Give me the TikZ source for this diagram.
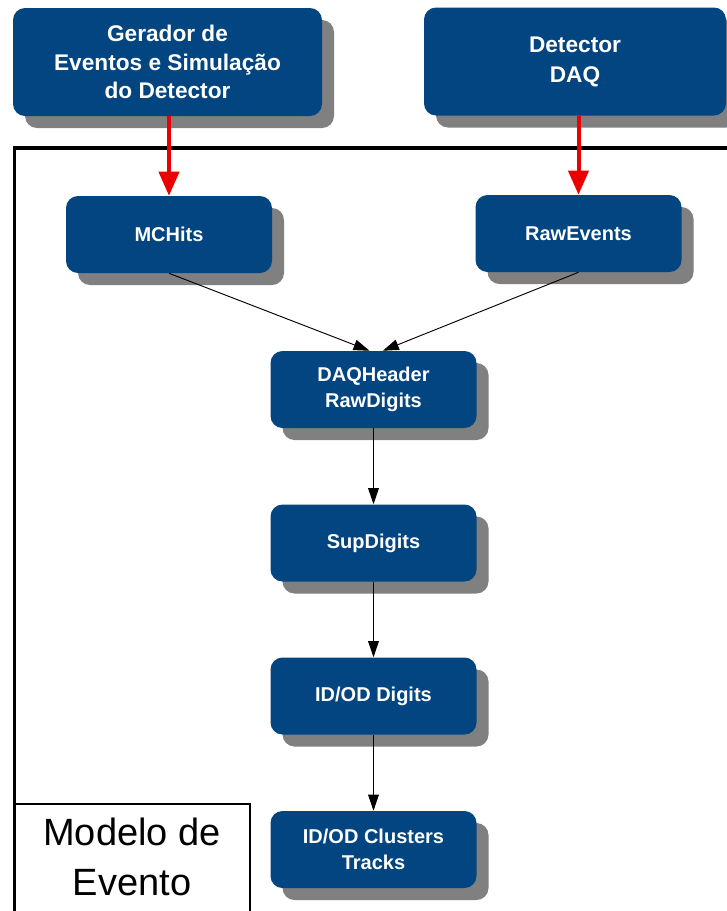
\documentclass[tikz,border=0pt]{standalone}
\usepackage{fontspec}
\setmainfont{Liberation Sans}
\usetikzlibrary{arrows.meta,shadows}
\definecolor{boxblue}{RGB}{3,69,128}
\definecolor{shadowgray}{RGB}{128,128,128}
\definecolor{arrowred}{RGB}{235,0,0}

\begin{document}
\begin{tikzpicture}[x=0.75pt, y=-0.75pt,
    blk/.style={rectangle, rounded corners=9pt, fill=boxblue, text=white,
        font=\bfseries\fontsize{15}{19.5}\selectfont, align=center, inner sep=0pt,
        minimum width=154.5pt, minimum height=57.75pt,
        drop shadow={fill=shadowgray, opacity=1, shadow xshift=9pt, shadow yshift=-9pt}},
    bigblk/.style={blk, minimum width=231.75pt, minimum height=81pt,
        font=\bfseries\fontsize{17}{21.5}\selectfont},
    feed/.style={-{Triangle[width=15pt,length=18pt]}, draw=arrowred, line width=3pt},
    flow/.style={-{Triangle[width=8pt,length=12pt]}, line width=0.7pt}]
    \useasboundingbox (0,0) rectangle (726,911);

    % Frame
    \draw [line width=2.6pt] (14.5,148) rectangle (760,960);
    \draw [line width=0.8pt] (14.5,804) -| (250,960);
    \node (modelo) [align=center, font=\fontsize{28.5}{37.5}\selectfont] at (132,857) {Modelo de\\Evento};

    % Sources
    \node (gerador) [bigblk] at (167.5,62) {Gerador de\\Eventos e Simulação\\do Detector};
    \node (detector) [bigblk, minimum width=226.5pt, font=\bfseries\fontsize{17}{22.5}\selectfont] at (575,61.5) {Detector\\DAQ};

    % Event model
    \node (mchits) [blk] at (169,234.5) {MCHits};
    \node (rawevents) [blk] at (578.5,233.5) {RawEvents};
    \node (daq) [blk] at (373.5,389.5) {DAQHeader\\RawDigits};
    \node (sup) [blk] at (373.5,543) {SupDigits};
    \node (idod) [blk] at (373.5,696) {ID/OD Digits};
    \node (clusters) [blk] at (373.5,849.5) {ID/OD Clusters\\Tracks};

    % Arrows
    \draw [feed] (mchits.north |- gerador.south) -- (mchits.north);
    \draw [feed] (rawevents.north |- detector.south) -- (rawevents.north);
    \draw [flow] (mchits.south) -- ([xshift=-3pt]daq.north);
    \draw [flow] (rawevents.south) -- ([xshift=7pt]daq.north);
    \draw [flow] (daq) -- (sup);
    \draw [flow] (sup) -- (idod);
    \draw [flow] (idod) -- (clusters);
\end{tikzpicture}
\end{document}
